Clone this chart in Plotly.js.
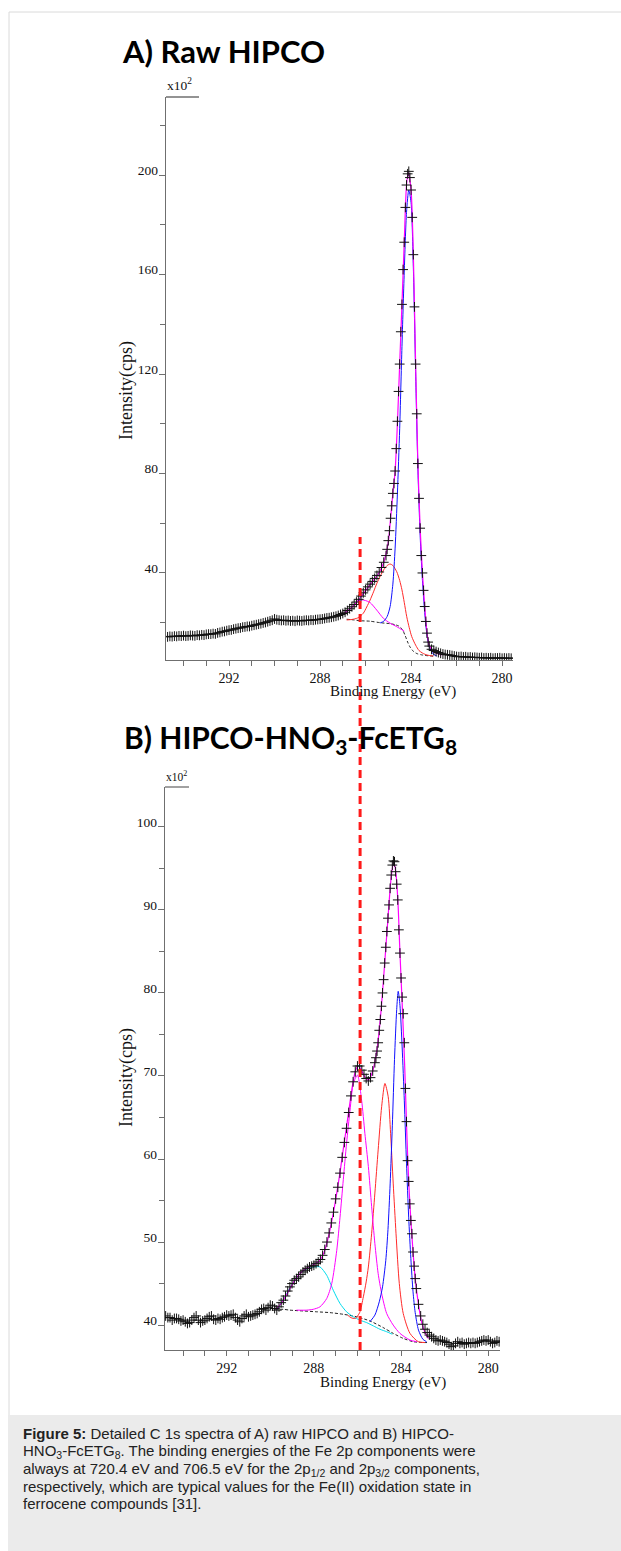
<!DOCTYPE html>
<html>
<head>
<meta charset="utf-8">
<script src="https://cdn.plot.ly/plotly-3.0.1.min.js"></script>
<style>
html,body{margin:0;padding:0;background:#fff;}
#chart{width:621px;height:1551px;}
</style>
</head>
<body>
<div id="chart"></div>
<script>
// ---------------- Panel A: raw HIPCO (C 1s) ----------------
const energyA = [
 294.7,294.6,294.5,294.4,294.3,294.2,294.1,294.0,293.9,293.8,
 293.7,293.6,293.5,293.4,293.3,293.2,293.1,293.0,292.9,292.8,
 292.7,292.6,292.5,292.4,292.3,292.2,292.1,292.0,291.9,291.8,
 291.7,291.6,291.5,291.4,291.3,291.2,291.1,291.0,290.9,290.8,
 290.7,290.6,290.5,290.4,290.3,290.2,290.1,290.0,289.9,289.8,
 289.7,289.6,289.5,289.4,289.3,289.2,289.1,289.0,288.9,288.8,
 288.7,288.6,288.5,288.4,288.3,288.2,288.1,288.0,287.9,287.8,
 287.7,287.6,287.5,287.4,287.3,287.2,287.1,287.0,
 286.9,286.8,286.7,286.6,286.5,286.4,286.3,286.2,286.1,286.0,
 285.9,285.8,285.7,285.6,285.5,285.4,285.3,285.2,285.1,
 285.05,285.0,284.95,284.9,284.85,284.8,284.75,284.7,284.65,284.6,
 284.55,284.5,284.45,284.4,284.35,284.3,284.25,284.2,284.15,284.1,
 284.05,284.0,283.95,283.9,283.85,283.8,283.75,283.7,283.65,283.6,
 283.55,283.5,283.45,283.4,283.35,283.3,283.25,283.2,
 283.1,283.0,282.9,282.8,282.7,282.6,282.5,282.4,282.3,282.2,
 282.1,282.0,281.9,281.8,281.7,281.6,281.5,281.4,281.3,281.2,
 281.1,281.0,280.9,280.8,280.7,280.6,280.5,280.4,280.3,280.2,
 280.1,280.0,279.9,279.8,279.7,279.6
];
const countsA = [
 14.3,14.5,14.4,14.6,14.5,14.7,14.6,14.8,14.6,14.7,
 14.9,14.8,14.7,15.0,14.9,15.1,15.0,15.3,15.4,15.4,
 15.6,15.5,15.9,16.1,16.4,16.5,16.8,17.0,17.1,17.4,
 17.6,17.8,17.9,18.2,18.3,18.5,18.5,18.8,19.0,19.2,
 19.4,19.6,19.9,20.1,20.4,20.7,21.0,21.5,21.2,21.0,
 20.9,21.0,20.8,20.9,20.7,20.8,20.6,20.9,20.8,20.7,
 20.9,21.0,20.9,21.1,21.0,21.2,21.3,21.4,21.5,21.7,
 21.9,22.0,22.2,22.4,22.6,22.9,23.3,23.7,
 24.2,24.9,25.6,26.4,27.3,28.3,29.4,30.7,32.0,33.2,
 34.4,35.5,36.6,37.8,39.0,40.4,42.2,44.3,47.0,
 49.5,53,57,62,67,72,76,81,90,101,
 113,124,137,148,162,173,187,196,200.5,201.5,
 199,194,183,168,147,124,104,84,70,58,
 47,40,33,26.5,20.5,15.8,12.2,10.6,
 9.3,8.8,8.4,8.0,7.7,7.4,7.2,7.1,7.0,6.8,
 6.6,6.4,6.3,6.4,6.2,6.3,6.1,6.2,6.0,6.1,
 6.0,5.9,6.0,5.8,5.9,5.8,5.9,5.7,5.8,5.8,
 5.9,5.7,5.8,5.7,5.8,5.7
];
const envA_E = [287.0,286.6,286.2,285.8,285.4,285.2,285.0,284.9,284.8,284.7,284.6,284.5,284.4,284.3,284.2,284.12,284.0,283.9,283.8,283.7,283.6,283.5,283.4,283.3,283.2,283.0,282.8,282.65];
const envA_V = [23.4,26.2,30.4,35.3,40.2,44.3,52.5,62,72,81,100,124,148,173,196,201,194,168,124,84,58,40,26.5,16,10.8,8.3,7.5,7.0];
const blueA_E = [285.36,285.2,285.05,284.92,284.8,284.7,284.6,284.5,284.4,284.3,284.2,284.1,284.0,283.9,283.8,283.7,283.6,283.5,283.4,283.3,283.2,283.05,282.87];
const blueA_V = [19.9,20.6,22.5,26.5,35.5,50,72,98,131,161,185,194,189,163,121,82,55,37,24,15,10.5,7.6,6.6];
const redA_E = [286.83,286.6,286.35,286.1,285.95,285.8,285.65,285.5,285.35,285.2,285.05,284.92,284.8,284.63,284.5,284.4,284.3,284.19,284.08,283.97,283.8,283.65,283.5,283.3,283.02];
const redA_V = [21.1,21.3,21.9,23.8,26.3,29.1,32.4,35.9,38.8,41.3,43.0,43.6,43.0,40.5,37.0,33.2,28.2,22.4,18.0,14.4,11.0,8.8,7.8,7.0,6.6];
const magA_E = [286.3,286.17,286.0,285.8,285.51,285.22,284.92,284.63,284.3];
const magA_V = [28.8,29.2,28.9,28.1,25.1,21.8,19.8,18.4,16.6];
const baseA_E = [286.83,286.5,286.24,285.8,285.36,284.92,284.7,284.55,284.45,284.35,284.25,284.15,284.05,283.9,283.75,283.5,283.25,283.0];
const baseA_V = [21.4,21.1,20.8,20.6,20.0,19.6,19.2,18.7,18.0,16.7,14.6,12.2,10.3,8.5,7.6,7.0,6.7,6.5];

// ---------------- Panel B: HIPCO-HNO3-FcETG8 (C 1s) ----------------
const energyB = [
 294.8,294.7,294.6,294.5,294.4,294.3,294.2,294.1,294.0,293.9,
 293.8,293.7,293.6,293.5,293.4,293.3,293.2,293.1,293.0,292.9,
 292.8,292.7,292.6,292.5,292.4,292.3,292.2,292.1,292.0,291.9,
 291.8,291.7,291.6,291.5,291.4,291.3,291.2,291.1,291.0,290.9,
 290.8,290.7,290.6,290.5,290.4,290.3,290.2,290.1,290.0,289.9,
 289.8,289.7,289.6,289.5,289.4,289.3,289.2,289.1,289.0,288.9,
 288.8,288.7,288.6,288.5,288.4,288.3,288.2,288.1,288.0,287.9,
 287.8,287.7,287.6,287.5,287.4,287.3,287.2,287.1,287.0,286.9,
 286.8,286.7,286.6,286.5,286.4,286.3,286.2,286.1,286.0,285.9,
 285.8,285.7,285.6,285.5,285.4,285.3,285.2,
 285.15,285.1,285.05,285.0,284.95,284.9,284.85,284.8,284.75,284.7,
 284.65,284.6,284.55,284.5,284.45,284.4,284.35,284.3,284.25,284.2,
 284.15,284.1,284.05,284.0,283.95,283.9,283.85,283.8,283.75,283.7,
 283.65,283.6,283.55,283.5,283.45,283.4,283.35,283.3,
 283.2,283.1,283.0,282.9,282.8,282.7,282.6,282.5,282.4,282.3,
 282.2,282.1,282.0,281.9,281.8,281.7,281.6,281.5,281.4,281.3,
 281.2,281.1,281.0,280.9,280.8,280.7,280.6,280.5,280.4,280.3,
 280.2,280.1,280.0,279.9,279.8,279.7,279.6,279.5
];
const countsB = [
 41.1,40.9,40.9,40.6,40.8,40.8,40.7,40.5,40.6,40.4,
 40.2,40.3,40.6,40.9,41.1,40.6,40.3,40.5,40.6,40.8,
 41.0,41.1,40.7,40.6,40.8,40.7,40.9,41.0,41.2,41.1,
 41.2,41.3,40.9,40.6,40.4,40.8,41.1,41.3,41.0,41.1,
 41.2,41.3,41.4,41.6,41.9,42.0,41.8,42.1,42.4,42.3,
 42.0,41.8,42.2,42.7,43.0,43.5,44.1,44.6,45.0,45.4,
 45.6,45.8,46.1,46.4,46.6,46.8,47.0,47.1,47.2,47.4,
 47.6,47.9,48.4,49.1,50.0,51.1,52.3,53.6,55.2,56.6,
 58.3,60.2,62.0,63.7,65.6,67.6,69.3,70.5,71.2,71.2,
 70.7,70.2,69.7,69.4,69.8,70.6,71.6,
 72.2,73.0,74.0,75.5,76.8,78.4,80.0,81.6,83.6,85.5,
 87.4,89.0,90.6,92.6,94.2,95.4,95.9,95.8,94.6,93.1,
 91.2,87.6,84.8,81.8,79.5,77.5,74.0,68.5,64.5,59.8,
 57.3,54.6,52.6,51.0,48.8,47.1,45.6,44.4,
 42.5,41.1,40.1,39.5,39.1,38.8,38.6,38.4,38.2,38.1,
 38.2,38.1,38.0,37.9,37.7,37.4,37.5,37.8,38.0,37.8,
 37.9,37.7,37.8,37.9,37.8,37.9,37.8,37.9,38.0,38.1,
 38.2,38.1,38.2,38.0,37.8,37.9,38.1,38.0
];
const envB_E = [289.75,289.5,289.2,288.9,288.6,288.3,288.0,287.72,287.5,287.3,287.1,286.95,286.8,286.65,286.5,286.34,286.2,286.07,285.95,285.8,285.65,285.5,285.35,285.2,285.05,284.9,284.75,284.6,284.45,284.33,284.24,284.14,284.05,283.93,283.83,283.74,283.65,283.55,283.45,283.35,283.2,283.05,282.9,282.75];
const envB_V = [41.9,42.6,43.9,45.3,46.3,46.9,47.3,47.8,49.0,51.0,53.6,55.9,58.4,61.2,63.9,66.9,69.3,70.8,71.2,70.6,69.8,69.5,70.2,71.7,74.3,78.4,83.6,89.0,94.0,95.8,94.5,90.8,84.8,77.6,71.0,63.5,57.3,52.6,48.8,45.6,42.5,40.3,39.1,38.4];
const blueB_E = [285.43,285.2,285.0,284.85,284.7,284.6,284.5,284.4,284.3,284.2,284.13,284.05,283.95,283.85,283.75,283.65,283.55,283.45,283.35,283.2,283.0,282.83];
const blueB_V = [40.4,41.2,42.8,44.6,47.8,51.5,57,64,72,78,80.2,78.5,73.5,67,59.5,53,48,44,41.5,39.4,38.3,38.0];
const redB_E = [286.45,286.3,286.1,285.9,285.73,285.6,285.5,285.35,285.2,285.05,284.89,284.74,284.59,284.48,284.36,284.23,284.08,283.9,283.59,283.21,282.9];
const redB_V = [41.2,40.9,40.8,41.5,43.4,45.2,47.0,51.0,55.9,61.1,66.3,69.1,67.5,63.1,57.1,51.0,45.0,41.4,39.0,38.0,37.9];
const magB_E = [288.8,288.33,288.03,287.72,287.41,287.18,286.95,286.8,286.65,286.5,286.34,286.19,286.0,285.81,285.66,285.5,285.35,285.2,285.05,284.89,284.66,284.36,284.05,283.59,283.28];
const magB_V = [41.8,41.8,41.9,42.2,43.2,45.0,49.0,53.0,57.5,61.9,65.9,69.1,70.1,67.1,63.1,59.1,54.3,49.8,46.2,43.8,41.4,40.0,39.0,38.2,38.0];
const cyanB_E = [289.7,289.5,289.3,289.1,288.9,288.7,288.5,288.3,288.0,287.72,287.41,287.11,286.8,286.5,286.19,285.89,285.58,285.27,284.97,284.66,284.4];
const cyanB_V = [41.9,42.6,43.5,44.5,45.3,46.0,46.5,46.8,47.0,47.0,46.0,44.2,42.6,41.6,41.0,40.6,40.3,39.9,39.5,39.2,38.9];
const baseB_E = [289.78,289.4,289.1,288.49,287.87,287.26,286.65,286.04,285.43,284.82,284.36,283.9,283.44,282.98,282.8];
const baseB_V = [41.9,41.9,41.8,41.7,41.6,41.5,41.3,41.0,40.5,39.7,39.0,38.4,38.0,37.9,37.9];

// ticks
const xTickVals = [292,288,284,280];
const yTicksA = [40,80,120,160,200];
const yTicksB = [40,50,60,70,80,90,100];
const refLineEnergy = 286.24;   // dashed marker, panel A energy scale

// ---------------- layout helpers ----------------
const W = 621, H = 1551;
const X = p => p / W;
const Y = p => 1 - p / H;
const SERIF = 'Liberation Serif, Times New Roman, serif';
const SANS = 'Liberation Sans, Arial, sans-serif';
const AX = '#6f6f6f';

function line(x, y, xa, ya, color, width, dash) {
  return {x:x, y:y, xaxis:xa, yaxis:ya, type:'scatter', mode:'lines',
    line:{color:color, width:width, dash:dash||'solid', shape:'spline', smoothing:0.7},
    hoverinfo:'skip', showlegend:false};
}
function pts(x, y, xa, ya) {
  return {x:x, y:y, xaxis:xa, yaxis:ya, type:'scatter', mode:'markers',
    marker:{symbol:'cross-thin', size:7, color:'#111', line:{color:'#111', width:1}},
    hoverinfo:'skip', showlegend:false};
}

const traces = [
  line(baseA_E, baseA_V, 'x', 'y', '#222', 1, '3px,2px'),
  line(redA_E, redA_V, 'x', 'y', '#ff2a2a', 1),
  line(magA_E, magA_V, 'x', 'y', '#ff00ff', 1),
  line(blueA_E, blueA_V, 'x', 'y', '#1010ff', 1),
  line(envA_E, envA_V, 'x', 'y', '#ff00ff', 1.2),
  pts(energyA, countsA, 'x', 'y'),
  line(baseB_E, baseB_V, 'x2', 'y2', '#222', 1, '3px,2px'),
  line(cyanB_E, cyanB_V, 'x2', 'y2', '#00dcec', 1),
  line(redB_E, redB_V, 'x2', 'y2', '#ff2a2a', 1),
  line(magB_E, magB_V, 'x2', 'y2', '#ff00ff', 1),
  line(blueB_E, blueB_V, 'x2', 'y2', '#1010ff', 1),
  line(envB_E, envB_V, 'x2', 'y2', '#ff00ff', 1.2),
  pts(energyB, countsB, 'x2', 'y2')
];

function xAxis(domain, range, anchor) {
  return {domain:domain, range:range, anchor:anchor, showline:true, linecolor:AX, linewidth:1.3,
    ticks:'outside', ticklen:5, tickwidth:1, tickcolor:AX, tickvals:xTickVals,
    ticktext:xTickVals.map(String), tickfont:{family:SERIF, size:14, color:'#111'},
    minor:{dtick:1, tick0:0, ticks:'outside', ticklen:5, tickwidth:1, tickcolor:AX},
    showgrid:false, zeroline:false, fixedrange:true};
}
function yAxis(domain, range, anchor, tv, minorDtick) {
  return {domain:domain, range:range, anchor:anchor, showline:true, linecolor:AX, linewidth:1.3,
    ticks:'outside', ticklen:6, tickwidth:1, tickcolor:AX, tickvals:tv, ticktext:tv.map(String),
    tickfont:{family:SERIF, size:13.5, color:'#111'}, ticklabelshift:-5, ticklabelstandoff:-2,
    minor:{dtick:minorDtick, tick0:0, ticks:'outside', ticklen:5, tickwidth:1, tickcolor:AX},
    showgrid:false, zeroline:false, fixedrange:true};
}

const layout = {
  width:W, height:H, margin:{l:0, r:0, t:0, b:0},
  paper_bgcolor:'#ffffff', plot_bgcolor:'rgba(0,0,0,0)', showlegend:false,
  xaxis: xAxis([X(166), X(513)], [294.77, 279.52], 'y'),
  yaxis: yAxis([Y(660), Y(97)], [5.0, 231.4], 'x', yTicksA, 20),
  xaxis2: xAxis([X(165), X(500)], [294.83, 279.46], 'y2'),
  yaxis2: yAxis([Y(1350), Y(787)], [37.0, 104.8], 'x2', yTicksB, 5),
  shapes: [
    {type:'rect', xref:'paper', yref:'paper', x0:X(8), x1:X(621), y0:Y(1551), y1:Y(1415),
     fillcolor:'#ebebeb', line:{width:0}, layer:'below'},
    {type:'line', xref:'paper', yref:'paper', x0:X(9), x1:X(621), y0:Y(12), y1:Y(12),
     line:{color:'#dadada', width:1}, layer:'below'},
    {type:'line', xref:'paper', yref:'paper', x0:X(9), x1:X(9), y0:Y(12), y1:Y(1415),
     line:{color:'#dadada', width:1}, layer:'below'},
    {type:'line', xref:'paper', yref:'paper', x0:X(166), x1:X(199), y0:Y(97), y1:Y(97),
     line:{color:AX, width:1.3}},
    {type:'line', xref:'paper', yref:'paper', x0:X(165), x1:X(189), y0:Y(787), y1:Y(787),
     line:{color:AX, width:1.3}},
    {type:'line', xref:'x', yref:'paper', x0:refLineEnergy, x1:refLineEnergy, y0:Y(1350), y1:Y(537),
     line:{color:'#ff1a1a', width:3, dash:'8px,5px'}}
  ],
  annotations: [
    {text:'A) Raw HIPCO', xref:'paper', yref:'paper', x:X(120), y:Y(51), xanchor:'left', yanchor:'middle',
     showarrow:false, font:{family:'Lato, Liberation Sans, sans-serif', size:31, weight:700, color:'#000'}},
    {text:'B) HIPCO-HNO<sub>3</sub>-FcETG<sub>8</sub>', xref:'paper', yref:'paper', x:X(122), y:Y(739),
     xanchor:'left', yanchor:'middle', showarrow:false,
     font:{family:'Lato, Liberation Sans, sans-serif', size:30, weight:700, color:'#000'}},
    {text:'x10<sup>2</sup>', xref:'paper', yref:'paper', x:X(165), y:Y(95), xanchor:'left', yanchor:'bottom',
     showarrow:false, font:{family:SERIF, size:13.5, color:'#111'}},
    {text:'x10<sup>2</sup>', xref:'paper', yref:'paper', x:X(164), y:Y(785), xanchor:'left', yanchor:'bottom',
     showarrow:false, font:{family:SERIF, size:11.5, color:'#111'}},
    {text:'Intensity(cps)', xref:'paper', yref:'paper', x:X(126), y:Y(391), textangle:-90,
     xanchor:'center', yanchor:'middle', showarrow:false, font:{family:SERIF, size:18, color:'#111'}},
    {text:'Intensity(cps)', xref:'paper', yref:'paper', x:X(126), y:Y(1078), textangle:-90,
     xanchor:'center', yanchor:'middle', showarrow:false, font:{family:SERIF, size:18, color:'#111'}},
    {text:'Binding Energy (eV)', xref:'paper', yref:'paper', x:X(393), y:Y(691), xanchor:'center', yanchor:'middle',
     showarrow:false, font:{family:SERIF, size:15, color:'#111'}},
    {text:'Binding Energy (eV)', xref:'paper', yref:'paper', x:X(383), y:Y(1382), xanchor:'center', yanchor:'middle',
     showarrow:false, font:{family:SERIF, size:15, color:'#111'}},
    {text:'<b>Figure 5:</b> Detailed C 1s spectra of A) raw HIPCO and B) HIPCO-', xref:'paper', yref:'paper',
     x:X(21), y:Y(1433), xanchor:'left', yanchor:'middle', showarrow:false,
     font:{family:SANS, size:15, color:'#222'}},
    {text:'HNO<sub>3</sub>-FcETG<sub>8</sub>. The binding energies of the Fe 2p components were', xref:'paper', yref:'paper',
     x:X(21), y:Y(1451), xanchor:'left', yanchor:'middle', showarrow:false,
     font:{family:SANS, size:15, color:'#222'}},
    {text:'always at 720.4 eV and 706.5 eV for the 2p<sub>1/2</sub> and 2p<sub>3/2</sub> components,', xref:'paper', yref:'paper',
     x:X(21), y:Y(1469), xanchor:'left', yanchor:'middle', showarrow:false,
     font:{family:SANS, size:15, color:'#222'}},
    {text:'respectively, which are typical values for the Fe(II) oxidation state in', xref:'paper', yref:'paper',
     x:X(21), y:Y(1486), xanchor:'left', yanchor:'middle', showarrow:false,
     font:{family:SANS, size:15, color:'#222'}},
    {text:'ferrocene compounds [31].', xref:'paper', yref:'paper',
     x:X(21), y:Y(1503), xanchor:'left', yanchor:'middle', showarrow:false,
     font:{family:SANS, size:15, color:'#222'}}
  ]
};

Plotly.newPlot('chart', traces, layout, {displayModeBar:false, staticPlot:true});
</script>
</body>
</html>
